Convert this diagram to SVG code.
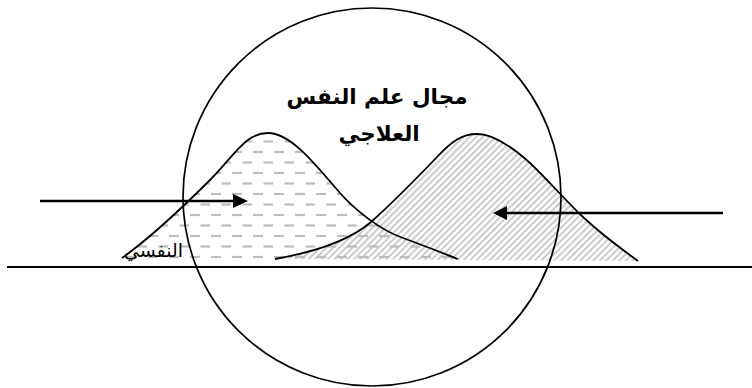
<svg xmlns="http://www.w3.org/2000/svg" width="752" height="388" viewBox="0 0 752 388">
  <style>
    .curve { fill: none; stroke: #000; stroke-width: 1.8; }
    .line { fill: none; stroke: #000; stroke-width: 2.2; }
    .arrow { fill: none; stroke: #000; stroke-width: 2.6; }
    .circle { fill: none; stroke: #000; stroke-width: 1.7; }
    .ar { font-family: "DejaVu Sans", "Liberation Sans", sans-serif; fill: #000; }
    .bold { font-weight: bold; font-size: 21.5px; }
  </style>
  <defs>
    <pattern id="dashes" patternUnits="userSpaceOnUse" x="0" y="0" width="21" height="21">
      <line x1="1" y1="5" x2="11" y2="5" stroke="#bdbdbd" stroke-width="2.2"/>
      <line x1="11.5" y1="15.5" x2="21.5" y2="15.5" stroke="#bdbdbd" stroke-width="2.2"/>
    </pattern>
    <pattern id="hatch" patternUnits="userSpaceOnUse" width="4.6" height="4.6" patternTransform="rotate(45)">
      <line x1="1.2" y1="0" x2="1.2" y2="4.6" stroke="#c4c4c4" stroke-width="1.8"/>
    </pattern>
  </defs>

  <g id="fills">
    <path fill="url(#hatch)" d="M275,259 C315,252 350,240 371,222 C390,205 415,180 437,157 C452,141 462,134 477,134 C492,134 510,145 530,163 C548,180 565,200 583,217 C600,233 620,248 638,261 Z"/>
    <path fill="url(#dashes)" d="M122,258 C150,238 185,205 210,180 C235,155 245,133 268,133 C292,133 318,168 340,193 C355,210 380,230 403,238 C425,246 445,254 458,259 Z"/>
  </g>

  <g id="baseline">
    <line class="line" x1="7" y1="267" x2="752" y2="267"/>
  </g>

  <g id="curve-left">
    <path class="curve" d="M122,258 C150,238 185,205 210,180 C235,155 245,133 268,133 C292,133 318,168 340,193 C355,210 380,230 403,238 C425,246 445,254 458,259"/>
  </g>

  <g id="curve-right">
    <path class="curve" d="M275,259 C315,252 350,240 371,222 C390,205 415,180 437,157 C452,141 462,134 477,134 C492,134 510,145 530,163 C548,180 565,200 583,217 C600,233 620,248 638,261"/>
  </g>

  <g id="circle-node">
    <circle class="circle" cx="372" cy="197" r="189"/>
    <text class="ar bold" x="377" y="104" text-anchor="middle" direction="rtl">مجال علم النفس</text>
    <text class="ar bold" x="379" y="141" text-anchor="middle" direction="rtl">العلاجي</text>
  </g>

  <g id="label-left">
    <text class="ar" x="183" y="257" font-size="19" text-anchor="start" direction="rtl">النفسي</text>
  </g>

  <g id="connectors">
    <line class="arrow" x1="40" y1="201" x2="234" y2="201"/>
    <path d="M233,194 L248,201 L233,208 Z" fill="#000"/>
    <line class="arrow" x1="723" y1="213" x2="506" y2="213"/>
    <path d="M507,206 L493,213 L507,220 Z" fill="#000"/>
  </g>
</svg>
